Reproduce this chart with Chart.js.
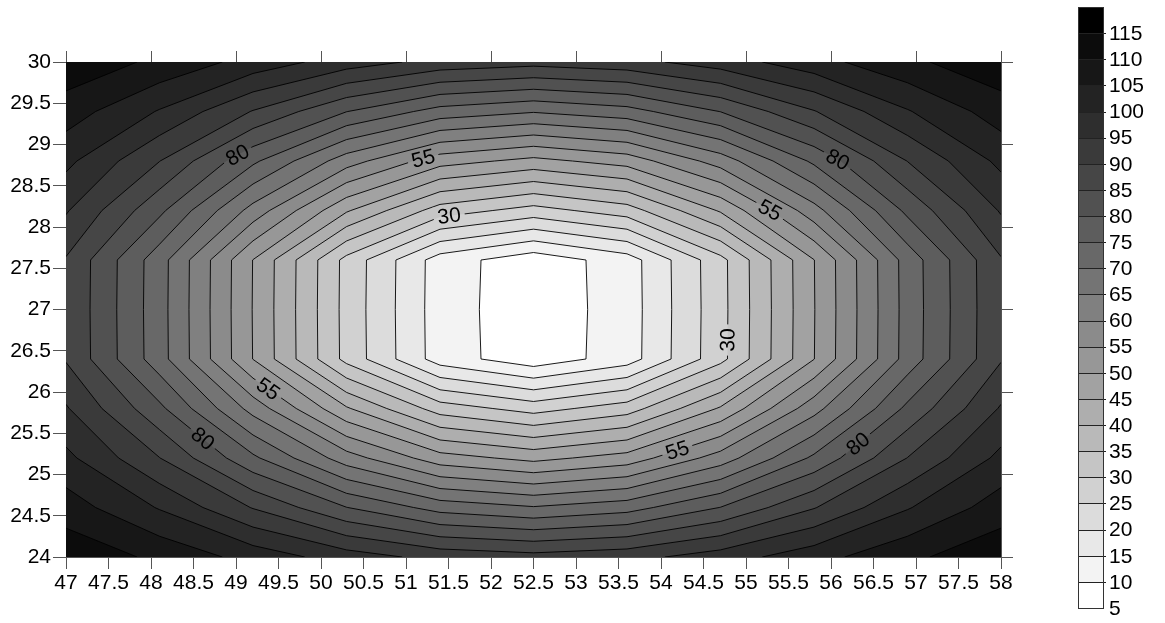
<!DOCTYPE html>
<html>
<head>
<meta charset="utf-8">
<script src="https://cdn.jsdelivr.net/npm/chart.js@4/dist/chart.umd.min.js"></script>
<style>
html,body{margin:0;padding:0;background:#fff;overflow:hidden}
#wrap{width:1165px;height:623px;position:relative}
</style>
</head>
<body>
<div id="wrap"><canvas id="c" width="1165" height="623"></canvas></div>
<script>
// ---- grid data ----
const xValues = [47, 48.1, 49.2, 50.3, 51.4, 52.5, 53.6, 54.7, 55.8, 56.9, 58];
const yValues = [24, 24.6, 25.2, 25.8, 26.4, 27, 27.6, 28.2, 28.8, 29.4, 30];
const zRow24   = [113.5, 108.9, 103.1, 97.5, 93.3, 91.8, 93.3, 97.5, 103.1, 108.9, 113.5];
const zRow24_6 = [107.5, 99.6, 89.7, 80.1, 73.0, 70.4, 73.0, 80.1, 89.7, 99.6, 107.5];
const zRow25_2 = [101.3, 90.1, 76.0, 62.3, 52.1, 48.5, 52.1, 62.3, 76.0, 90.1, 101.3];
const zRow25_8 = [95.5, 81.2, 63.1, 45.6, 32.6, 28.0, 32.6, 45.6, 63.1, 81.2, 95.5];
const zRow26_4 = [89.6, 72.1, 49.9, 28.4, 12.5, 6.8, 12.5, 28.4, 49.9, 72.1, 89.6];
const zRow27   = [89.5, 72.0, 49.8, 28.3, 12.4, 6.7, 12.4, 28.3, 49.8, 72.0, 89.5];
const zRow27_6 = [89.6, 72.1, 49.9, 28.4, 12.5, 6.8, 12.5, 28.4, 49.9, 72.1, 89.6];
const zRow28_2 = [95.5, 81.2, 63.1, 45.6, 32.6, 28.0, 32.6, 45.6, 63.1, 81.2, 95.5];
const zRow28_8 = [101.3, 90.1, 76.0, 62.3, 52.1, 48.5, 52.1, 62.3, 76.0, 90.1, 101.3];
const zRow29_4 = [107.5, 99.6, 89.7, 80.1, 73.0, 70.4, 73.0, 80.1, 89.7, 99.6, 107.5];
const zRow30   = [113.5, 108.9, 103.1, 97.5, 93.3, 91.8, 93.3, 97.5, 103.1, 108.9, 113.5];
const zGrid = [zRow24, zRow24_6, zRow25_2, zRow25_8, zRow26_4, zRow27, zRow27_6, zRow28_2, zRow28_8, zRow29_4, zRow30];

const contourLevels = [10,15,20,25,30,35,40,45,50,55,60,65,70,75,80,85,90,95,100,105,110,115];
const colorbarLevels = [5,10,15,20,25,30,35,40,45,50,55,60,65,70,75,80,85,90,95,100,105,110,115,120];
const colorbarTickLabels = ['5','10','15','20','25','30','35','40','45','50','55','60','65','70','75','80','85','90','95','100','105','110','115'];

const xTickValues = [47,47.5,48,48.5,49,49.5,50,50.5,51,51.5,52,52.5,53,53.5,54,54.5,55,55.5,56,56.5,57,57.5,58];
const xTickLabels = ['47','47.5','48','48.5','49','49.5','50','50.5','51','51.5','52','52.5','53','53.5','54','54.5','55','55.5','56','56.5','57','57.5','58'];
const yTickValues = [24,24.5,25,25.5,26,26.5,27,27.5,28,28.5,29,29.5,30];
const yTickLabels = ['24','24.5','25','25.5','26','26.5','27','27.5','28','28.5','29','29.5','30'];
const topTickValues = [47,48,49,50,51,52,53,54,55,56,57,58];
const rightTickValues = [24,25,26,27,28,29,30];

// contour label anchors (level, approx. data location)
const labelLevels = [80, 55, 30, 55, 80, 30, 55, 80, 55, 80];
const labelAnchorX = [49.02, 51.2, 51.51, 55.26, 56.07, 54.78, 49.36, 48.55, 54.2, 56.35];
const labelAnchorY = [28.87, 28.84, 28.11, 28.16, 28.8, 26.63, 26.01, 25.36, 25.27, 25.33];

// ---- helpers ----
const FONT = '"Liberation Sans", Arial, Helvetica, sans-serif';
const FSIZE = 21;
const NB = colorbarLevels.length - 1;
function bandColor(i){
  const g = Math.round(255 * (1 - i / (NB - 1)));
  return 'rgb(' + g + ',' + g + ',' + g + ')';
}
function cellCorners(i, j){
  return [
    {x:xValues[i],   y:yValues[j],   z:zGrid[j][i]},
    {x:xValues[i+1], y:yValues[j],   z:zGrid[j][i+1]},
    {x:xValues[i+1], y:yValues[j+1], z:zGrid[j+1][i+1]},
    {x:xValues[i],   y:yValues[j+1], z:zGrid[j+1][i]}
  ];
}
function clipAbove(poly, L){
  const out = [];
  for (let k = 0; k < poly.length; k++){
    const a = poly[k], b = poly[(k+1) % poly.length];
    const ina = a.z >= L, inb = b.z >= L;
    if (ina) out.push(a);
    if (ina !== inb){
      const t = (L - a.z) / (b.z - a.z);
      out.push({x:a.x + t*(b.x-a.x), y:a.y + t*(b.y-a.y), z:L});
    }
  }
  return out;
}
function cellSegments(c, L){
  const pts = [];
  for (let k = 0; k < 4; k++){
    const a = c[k], b = c[(k+1) % 4];
    if ((a.z >= L) !== (b.z >= L)){
      const t = (L - a.z) / (b.z - a.z);
      pts.push({x:a.x + t*(b.x-a.x), y:a.y + t*(b.y-a.y)});
    }
  }
  const segs = [];
  if (pts.length === 2) segs.push([pts[0], pts[1]]);
  else if (pts.length === 4){ segs.push([pts[0], pts[1]]); segs.push([pts[2], pts[3]]); }
  return segs;
}

const contourPlugin = {
  id: 'contour',
  beforeDatasetsDraw(chart){
    const ctx = chart.ctx, ca = chart.chartArea;
    const xs = chart.scales.x, ys = chart.scales.y;
    const px = v => xs.getPixelForValue(v), py = v => ys.getPixelForValue(v);
    const nx = xValues.length - 1, ny = yValues.length - 1;

    ctx.save();
    ctx.beginPath();
    ctx.rect(ca.left, ca.top, ca.right - ca.left, ca.bottom - ca.top);
    ctx.clip();

    ctx.fillStyle = bandColor(0);
    ctx.fillRect(ca.left, ca.top, ca.right - ca.left, ca.bottom - ca.top);
    contourLevels.forEach(L => {
      ctx.beginPath();
      for (let j = 0; j < ny; j++) for (let i = 0; i < nx; i++){
        const poly = clipAbove(cellCorners(i, j), L);
        if (poly.length < 3) continue;
        ctx.moveTo(px(poly[0].x), py(poly[0].y));
        for (let k = 1; k < poly.length; k++) ctx.lineTo(px(poly[k].x), py(poly[k].y));
        ctx.closePath();
      }
      ctx.fillStyle = bandColor(colorbarLevels.indexOf(L));
      ctx.fill();
    });

    const segsByLevel = {};
    contourLevels.forEach(L => {
      const arr = [];
      for (let j = 0; j < ny; j++) for (let i = 0; i < nx; i++){
        cellSegments(cellCorners(i, j), L).forEach(s => {
          arr.push([{x:px(s[0].x), y:py(s[0].y)}, {x:px(s[1].x), y:py(s[1].y)}]);
        });
      }
      segsByLevel[L] = arr;
    });

    ctx.font = FSIZE + 'px ' + FONT;
    const labels = [];
    for (let n = 0; n < labelLevels.length; n++){
      const L = labelLevels[n];
      const ax = px(labelAnchorX[n]), ay = py(labelAnchorY[n]);
      let best = null, bd = Infinity;
      segsByLevel[L].forEach(s => {
        const dx = s[1].x - s[0].x, dy = s[1].y - s[0].y;
        const len2 = dx*dx + dy*dy || 1;
        let t = ((ax - s[0].x)*dx + (ay - s[0].y)*dy) / len2;
        t = Math.max(0, Math.min(1, t));
        const qx = s[0].x + t*dx, qy = s[0].y + t*dy;
        const d = (qx-ax)*(qx-ax) + (qy-ay)*(qy-ay);
        if (d < bd){ bd = d; best = {x:qx, y:qy, ang:Math.atan2(dy, dx)}; }
      });
      if (!best) continue;
      let ang = best.ang;
      if (ang > Math.PI/2) ang -= Math.PI;
      if (ang <= -Math.PI/2) ang += Math.PI;
      const text = String(L);
      const w = ctx.measureText(text).width;
      labels.push({x:best.x, y:best.y, ang, text, hw:w/2 + 4, hh:10});
    }

    const clipPath = new Path2D();
    clipPath.rect(ca.left, ca.top, ca.right - ca.left, ca.bottom - ca.top);
    labels.forEach(lb => {
      const c = Math.cos(lb.ang), s = Math.sin(lb.ang);
      const pts = [[-lb.hw,-lb.hh],[lb.hw,-lb.hh],[lb.hw,lb.hh],[-lb.hw,lb.hh]].map(p => [lb.x + p[0]*c - p[1]*s, lb.y + p[0]*s + p[1]*c]);
      clipPath.moveTo(pts[0][0], pts[0][1]);
      for (let k = 1; k < 4; k++) clipPath.lineTo(pts[k][0], pts[k][1]);
      clipPath.closePath();
    });
    ctx.save();
    ctx.clip(clipPath, 'evenodd');
    ctx.strokeStyle = '#000';
    ctx.lineWidth = 0.9;
    ctx.beginPath();
    contourLevels.forEach(L => {
      segsByLevel[L].forEach(s => { ctx.moveTo(s[0].x, s[0].y); ctx.lineTo(s[1].x, s[1].y); });
    });
    ctx.stroke();
    ctx.restore();

    ctx.fillStyle = '#000';
    ctx.textAlign = 'center';
    ctx.textBaseline = 'middle';
    labels.forEach(lb => {
      ctx.save();
      ctx.translate(lb.x, lb.y);
      ctx.rotate(lb.ang);
      ctx.fillText(lb.text, 0, 1);
      ctx.restore();
    });
    ctx.restore();
  },
  afterDraw(chart){
    const ctx = chart.ctx;
    const left = 1078, right = 1103, top = 7, bottom = 608;
    const h = (bottom - top) / NB;
    ctx.save();
    for (let i = 0; i < NB; i++){
      ctx.fillStyle = bandColor(i);
      ctx.fillRect(left, bottom - (i+1)*h, right - left, h + 0.5);
    }
    ctx.strokeStyle = '#222';
    ctx.lineWidth = 1;
    ctx.beginPath();
    for (let i = 1; i < NB; i++){
      const y = Math.round(bottom - i*h) + 0.5;
      ctx.moveTo(left, y); ctx.lineTo(right + 3, y);
    }
    ctx.stroke();
    ctx.strokeStyle = '#333';
    ctx.strokeRect(left + 0.5, top + 0.5, right - left, bottom - top);
    ctx.fillStyle = '#000';
    ctx.font = FSIZE + 'px ' + FONT;
    ctx.textAlign = 'left';
    ctx.textBaseline = 'middle';
    colorbarTickLabels.forEach((t, i) => {
      ctx.fillText(t, right + 6, bottom - i*h + 1);
    });
    ctx.restore();
  }
};

Chart.defaults.font.family = FONT;
Chart.defaults.font.size = FSIZE;
Chart.defaults.color = '#000';

const axisCommon = {
  type: 'linear',
  z: 1,
  border: {display: true, color: '#555', width: 1},
  grid: {drawOnChartArea: false, drawTicks: true, color: '#555', lineWidth: 1}
};

new Chart(document.getElementById('c'), {
  type: 'scatter',
  data: {datasets: []},
  options: {
    responsive: false,
    animation: false,
    devicePixelRatio: 1,
    layout: {padding: 0},
    plugins: {legend: {display: false}, tooltip: {enabled: false}},
    scales: {
      x: Object.assign({}, axisCommon, {
        position: 'bottom', min: 47, max: 58,
        grid: Object.assign({}, axisCommon.grid, {tickLength: 12}),
        ticks: {autoSkip: false, maxRotation: 0, padding: 2, font: {size: FSIZE, family: FONT}, color: '#000',
                callback: (v, i) => xTickLabels[i]},
        afterBuildTicks: s => { s.ticks = xTickValues.map(v => ({value: v})); },
        afterFit: s => { s.height = 66; }
      }),
      x2: Object.assign({}, axisCommon, {
        axis: 'x', position: 'top', min: 47, max: 58,
        grid: Object.assign({}, axisCommon.grid, {tickLength: 11}),
        ticks: {autoSkip: false, maxRotation: 0, callback: () => ''},
        afterBuildTicks: s => { s.ticks = topTickValues.map(v => ({value: v})); },
        afterFit: s => { s.height = 62; }
      }),
      y: Object.assign({}, axisCommon, {
        position: 'left', min: 24, max: 30,
        grid: Object.assign({}, axisCommon.grid, {tickLength: 13}),
        ticks: {autoSkip: false, padding: 2, font: {size: FSIZE, family: FONT}, color: '#000',
                callback: (v, i) => yTickLabels[i]},
        afterBuildTicks: s => { s.ticks = yTickValues.map(v => ({value: v})); },
        afterFit: s => { s.width = 66; }
      }),
      y2: Object.assign({}, axisCommon, {
        axis: 'y', position: 'right', min: 24, max: 30,
        grid: Object.assign({}, axisCommon.grid, {tickLength: 12}),
        ticks: {autoSkip: false, callback: () => ''},
        afterBuildTicks: s => { s.ticks = rightTickValues.map(v => ({value: v})); },
        afterFit: s => { s.width = 164; }
      })
    }
  },
  plugins: [contourPlugin]
});
</script>
</body>
</html>
